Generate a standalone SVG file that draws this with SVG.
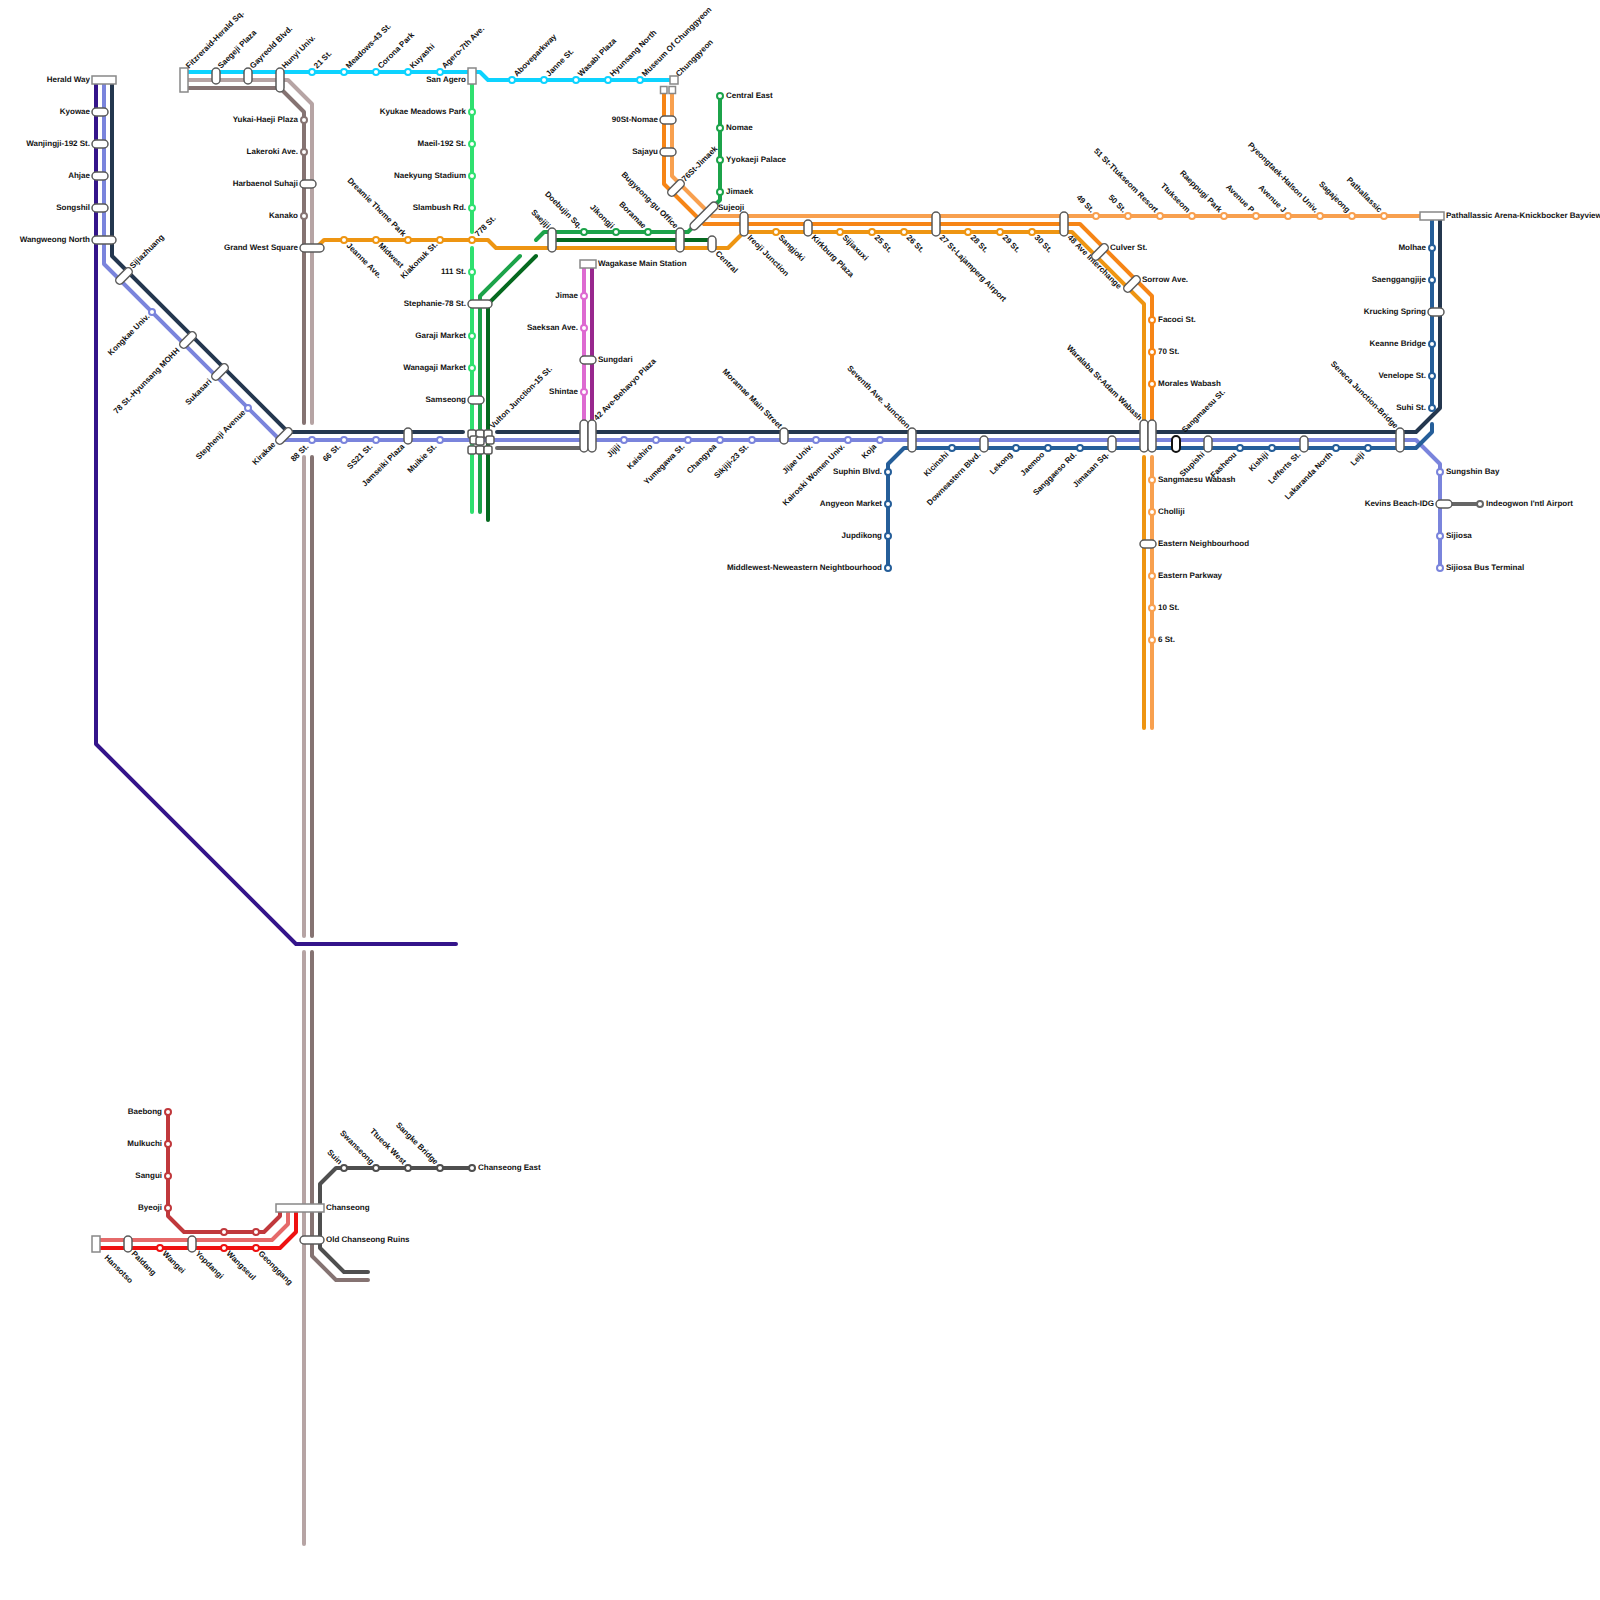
<svg xmlns="http://www.w3.org/2000/svg" width="1600" height="1600" viewBox="0 0 1600 1600">
<style>
text{font:bold 8px "Liberation Sans",Arial,sans-serif;fill:#111;text-rendering:geometricPrecision}
.e{text-anchor:end}
#lines path{fill:none;stroke-width:4;stroke-linecap:round;stroke-linejoin:round}
circle{fill:#fff;stroke-width:2}
.p{fill:#fff;stroke:#5a5a5a;stroke-width:1.5}
.b{fill:#fff;stroke:#888;stroke-width:1.5}
.k{fill:#fff;stroke:#111;stroke-width:2}
.cy{stroke:#0dd3ff}.lg{stroke:#2fe06f}.gr{stroke:#1ca34a}.dg{stroke:#05691f}
.or{stroke:#ee9512}.bo{stroke:#f68516}.lo{stroke:#f8a04f}
.nv{stroke:#24374f}.pw{stroke:#7a84dc}.bl{stroke:#255e99}
.tl{stroke:#b6a4a4}.td{stroke:#857372}.dp{stroke:#34148a}
.pk{stroke:#dd6bd1}.pu{stroke:#98278e}.gy{stroke:#666}.dk{stroke:#4f4f4f}
.r1{stroke:#c0383c}.r2{stroke:#e56a6a}.r3{stroke:#ee1111}
</style>
<g id="lines">
<path class="dp" d="M96 84V744L296 944H456"/>
<path class="pw" d="M104 84V264L280 440H1416L1440 464V568"/>
<path class="nv" d="M112 84V256L288 432H463"/>
<path class="nv" d="M497 432H1416L1440 408V216"/>
<path class="bl" d="M888 568V464L904 448H1416L1432 432V424"/>
<path class="bl" d="M1432 216V408"/>
<path class="gy" d="M497 448H584"/>
<path class="gy" d="M1448 504H1480"/>
<path class="td" d="M188 88H280L304 112V423"/>
<path class="tl" d="M188 80H288L312 104V423"/>
<path class="tl" d="M304 457V936"/>
<path class="td" d="M312 457V936"/>
<path class="tl" d="M304 952V1544"/>
<path class="td" d="M312 952V1256L336 1280H368"/>
<path class="dk" d="M472 1168H336L320 1184V1248L344 1272H368"/>
<path class="cy" d="M188 72H480L488 80H672"/>
<path class="lg" d="M472 84V232"/>
<path class="lg" d="M472 248V512"/>
<path class="gr" d="M480 512V296L520 256"/>
<path class="dg" d="M488 520V304L536 256"/>
<path class="gr" d="M536 240L544 232H688L720 200V96"/>
<path class="dg" d="M556 240H712"/>
<path class="or" d="M316 248L324 240H488L496 248H728L744 232H1072L1144 304V440"/>
<path class="or" d="M1144 457V728"/>
<path class="bo" d="M664 90V184L704 224H1080L1152 296V440"/>
<path class="lo" d="M672 90V176L712 216H1420"/>
<path class="lo" d="M1152 457V728"/>
<path class="pk" d="M584 268V424"/>
<path class="pu" d="M592 268V424"/>
<path class="r1" d="M168 1112V1216L184 1232H264L280 1216V1212"/>
<path class="r2" d="M100 1240H272L288 1224V1212"/>
<path class="r3" d="M100 1248H280L296 1232V1212"/>
</g>
<g id="nodes">
<g id="n1"><rect class="b" x="92" y="76" width="24" height="8"/><text class="e" x="90" y="82">Herald Way</text></g>
<g id="n2"><rect class="p" x="92" y="108" width="16" height="8" rx="4"/><text class="e" x="90" y="114">Kyowae</text></g>
<g id="n3"><rect class="p" x="92" y="140" width="16" height="8" rx="4"/><text class="e" x="90" y="146">Wanjingji-192 St.</text></g>
<g id="n4"><rect class="p" x="92" y="172" width="16" height="8" rx="4"/><text class="e" x="90" y="178">Ahjae</text></g>
<g id="n5"><rect class="p" x="92" y="204" width="16" height="8" rx="4"/><text class="e" x="90" y="210">Songshil</text></g>
<g id="n6"><rect class="p" x="92" y="236" width="24" height="8" rx="4"/><text class="e" x="90" y="242">Wangweong North</text></g>
<g id="n7"><rect class="p" x="114" y="272" width="20" height="8" rx="4" transform="rotate(-45 124 276)"/><text transform="translate(133 269) rotate(-45)">Sijiazhuang</text></g>
<g id="n8"><circle class="pw" cx="152" cy="312" r="3"/><text class="e" transform="translate(150 317) rotate(-45)">Kongkae Univ.</text></g>
<g id="n9"><rect class="p" x="178" y="336" width="20" height="8" rx="4" transform="rotate(-45 188 340)"/><text class="e" transform="translate(180 351) rotate(-45)">78 St.-Hyunsang MOHH</text></g>
<g id="n10"><rect class="p" x="210" y="368" width="20" height="8" rx="4" transform="rotate(-45 220 372)"/><text class="e" transform="translate(212 382) rotate(-45)">Sukasari</text></g>
<g id="n11"><circle class="pw" cx="248" cy="408" r="3"/><text class="e" transform="translate(246 413) rotate(-45)">Stephenji Avenue</text></g>
<g id="n12"><rect class="p" x="274" y="432" width="20" height="8" rx="4" transform="rotate(-45 284 436)"/><text class="e" transform="translate(276 445) rotate(-45)">Kirakae</text></g>
<g id="n13"><rect class="b" x="180" y="68" width="8" height="24"/><text transform="translate(189 69) rotate(-45)">Fitzreraid-Herald Sq.</text></g>
<g id="n14"><rect class="p" x="212" y="68" width="8" height="16" rx="4"/><text transform="translate(221 69) rotate(-45)">Saegeji Plaza</text></g>
<g id="n15"><rect class="p" x="244" y="68" width="8" height="16" rx="4"/><text transform="translate(253 69) rotate(-45)">Gayreold Blvd.</text></g>
<g id="n16"><rect class="p" x="276" y="68" width="8" height="24" rx="4"/><text transform="translate(285 69) rotate(-45)">Hunyi Univ.</text></g>
<g id="n17"><circle class="cy" cx="312" cy="72" r="3"/><text transform="translate(317 69) rotate(-45)">21 St.</text></g>
<g id="n18"><circle class="cy" cx="344" cy="72" r="3"/><text transform="translate(349 69) rotate(-45)">Meadows-43 St.</text></g>
<g id="n19"><circle class="cy" cx="376" cy="72" r="3"/><text transform="translate(381 69) rotate(-45)">Corona Park</text></g>
<g id="n20"><circle class="cy" cx="408" cy="72" r="3"/><text transform="translate(413 69) rotate(-45)">Kuyashi</text></g>
<g id="n21"><circle class="cy" cx="440" cy="72" r="3"/><text transform="translate(445 69) rotate(-45)">Agero-7th Ave.</text></g>
<g id="n22"><rect class="b" x="468" y="68" width="8" height="16"/><text class="e" x="466" y="82">San Agero</text></g>
<g id="n23"><circle class="cy" cx="512" cy="80" r="3"/><text transform="translate(517 77) rotate(-45)">Aboveparkway</text></g>
<g id="n24"><circle class="cy" cx="544" cy="80" r="3"/><text transform="translate(549 77) rotate(-45)">Janne St.</text></g>
<g id="n25"><circle class="cy" cx="576" cy="80" r="3"/><text transform="translate(581 77) rotate(-45)">Wasabi Plaza</text></g>
<g id="n26"><circle class="cy" cx="608" cy="80" r="3"/><text transform="translate(613 77) rotate(-45)">Hyunsang North</text></g>
<g id="n27"><circle class="cy" cx="640" cy="80" r="3"/><text transform="translate(645 77) rotate(-45)">Museum Of Chunggyeon</text></g>
<g id="n28"><rect class="b" x="670" y="76" width="8" height="8"/><text transform="translate(679 77) rotate(-45)">Chunggyeon</text></g>
<g id="n29"><rect class="b" x="660.5" y="86.5" width="6.5" height="7"/></g>
<g id="n30"><rect class="b" x="669" y="86.5" width="6.5" height="7"/></g>
<g id="n31"><rect class="p" x="660" y="116" width="16" height="8" rx="4"/><text class="e" x="658" y="122">90St-Nomae</text></g>
<g id="n32"><rect class="p" x="660" y="148" width="16" height="8" rx="4"/><text class="e" x="658" y="154">Sajayu</text></g>
<g id="n33"><rect class="p" x="666" y="184" width="20" height="8" rx="4" transform="rotate(-45 676 188)"/><text transform="translate(685 182) rotate(-45)">76St-Jimaek</text></g>
<g id="n34"><rect class="p" x="686" y="212" width="36" height="8" rx="4" transform="rotate(-45 704 216)"/><text x="718" y="210">Sujeoji</text></g>
<g id="n35"><circle class="gr" cx="720" cy="96" r="3"/><text x="726" y="98">Central East</text></g>
<g id="n36"><circle class="gr" cx="720" cy="128" r="3"/><text x="726" y="130">Nomae</text></g>
<g id="n37"><circle class="gr" cx="720" cy="160" r="3"/><text x="726" y="162">Yyokaeji Palace</text></g>
<g id="n38"><circle class="gr" cx="720" cy="192" r="3"/><text x="726" y="194">Jimaek</text></g>
<g id="n39"><circle class="td" cx="304" cy="120" r="3"/><text class="e" x="298" y="122">Yukai-Haeji Plaza</text></g>
<g id="n40"><circle class="td" cx="304" cy="152" r="3"/><text class="e" x="298" y="154">Lakeroki Ave.</text></g>
<g id="n41"><rect class="p" x="300" y="180" width="16" height="8" rx="4"/><text class="e" x="298" y="186">Harbaenol Suhaji</text></g>
<g id="n42"><circle class="td" cx="304" cy="216" r="3"/><text class="e" x="298" y="218">Kanako</text></g>
<g id="n43"><rect class="p" x="300" y="244" width="24" height="8" rx="4"/><text class="e" x="298" y="250">Grand West Square</text></g>
<g id="n44"><circle class="or" cx="344" cy="240" r="3"/><text transform="translate(346 246) rotate(45)">Jeanne Ave.</text></g>
<g id="n45"><circle class="or" cx="376" cy="240" r="3"/><text transform="translate(378 246) rotate(45)">Midwest</text></g>
<g id="n46"><circle class="or" cx="408" cy="240" r="3"/><text class="e" transform="translate(403 237) rotate(45)">Dreamie Theme Park</text></g>
<g id="n47"><circle class="or" cx="440" cy="240" r="3"/><text class="e" transform="translate(438 245) rotate(-45)">Kiakonuk St.</text></g>
<g id="n48"><circle class="or" cx="472" cy="240" r="3"/><text transform="translate(478 237) rotate(-45)">778 St.</text></g>
<g id="n49"><circle class="lg" cx="472" cy="112" r="3"/><text class="e" x="466" y="114">Kyukae Meadows Park</text></g>
<g id="n50"><circle class="lg" cx="472" cy="144" r="3"/><text class="e" x="466" y="146">Maeil-192 St.</text></g>
<g id="n51"><circle class="lg" cx="472" cy="176" r="3"/><text class="e" x="466" y="178">Naekyung Stadium</text></g>
<g id="n52"><circle class="lg" cx="472" cy="208" r="3"/><text class="e" x="466" y="210">Slambush Rd.</text></g>
<g id="n53"><circle class="lg" cx="472" cy="272" r="3"/><text class="e" x="466" y="274">111 St.</text></g>
<g id="n54"><rect class="p" x="468" y="300" width="24" height="8" rx="4"/><text class="e" x="466" y="306">Stephanie-78 St.</text></g>
<g id="n55"><circle class="lg" cx="472" cy="336" r="3"/><text class="e" x="466" y="338">Garaji Market</text></g>
<g id="n56"><circle class="lg" cx="472" cy="368" r="3"/><text class="e" x="466" y="370">Wanagaji Market</text></g>
<g id="n57"><rect class="p" x="468" y="396" width="16" height="8" rx="4"/><text class="e" x="466" y="402">Samseong</text></g>
<g id="n58"><rect class="p" x="468" y="430" width="8" height="8" rx="2"/></g>
<g id="n59"><rect class="p" x="476" y="430" width="8" height="8" rx="2"/></g>
<g id="n60"><rect class="p" x="484" y="430" width="8" height="8" rx="2"/><text transform="translate(493 429) rotate(-45)">Vulton Junction-15 St.</text></g>
<g id="n61"><rect class="p" x="470" y="436" width="8" height="8" rx="2"/></g>
<g id="n62"><rect class="p" x="476" y="437" width="8" height="8" rx="2"/></g>
<g id="n63"><rect class="p" x="486" y="436" width="8" height="8" rx="2"/></g>
<g id="n64"><rect class="p" x="468" y="446" width="8" height="8" rx="2"/></g>
<g id="n65"><rect class="p" x="476" y="446" width="8" height="8" rx="2"/></g>
<g id="n66"><rect class="p" x="484" y="446" width="8" height="8" rx="2"/></g>
<g id="n67"><circle class="pw" cx="312" cy="440" r="3"/><text class="e" transform="translate(309 447) rotate(-45)">88 St.</text></g>
<g id="n68"><circle class="pw" cx="344" cy="440" r="3"/><text class="e" transform="translate(341 447) rotate(-45)">66 St.</text></g>
<g id="n69"><circle class="pw" cx="376" cy="440" r="3"/><text class="e" transform="translate(373 447) rotate(-45)">SS21 St.</text></g>
<g id="n70"><rect class="p" x="404" y="428" width="8" height="16" rx="4"/><text class="e" transform="translate(405 447) rotate(-45)">Jamseiki Plaza</text></g>
<g id="n71"><circle class="pw" cx="440" cy="440" r="3"/><text class="e" transform="translate(437 447) rotate(-45)">Muikie St.</text></g>
<g id="n72"><rect class="b" x="580" y="260" width="16" height="8"/><text x="598" y="266">Wagakase Main Station</text></g>
<g id="n73"><circle class="pk" cx="584" cy="296" r="3"/><text class="e" x="578" y="298">Jimae</text></g>
<g id="n74"><circle class="pk" cx="584" cy="328" r="3"/><text class="e" x="578" y="330">Saeksan Ave.</text></g>
<g id="n75"><rect class="p" x="580" y="356" width="16" height="8" rx="4"/><text x="598" y="362">Sungdari</text></g>
<g id="n76"><circle class="pk" cx="584" cy="392" r="3"/><text class="e" x="578" y="394">Shintae</text></g>
<g id="n77"><rect class="p" x="580" y="420" width="8" height="32" rx="4"/></g>
<g id="n78"><rect class="p" x="588" y="420" width="8" height="32" rx="4"/><text transform="translate(597 421) rotate(-45)">42 Ave-Behavyo Plaza</text></g>
<g id="n79"><circle class="pw" cx="624" cy="440" r="3"/><text class="e" transform="translate(621 447) rotate(-45)">Jijiji</text></g>
<g id="n80"><circle class="pw" cx="656" cy="440" r="3"/><text class="e" transform="translate(653 447) rotate(-45)">Kaishiro</text></g>
<g id="n81"><circle class="pw" cx="688" cy="440" r="3"/><text class="e" transform="translate(685 447) rotate(-45)">Yumegawa St.</text></g>
<g id="n82"><circle class="pw" cx="720" cy="440" r="3"/><text class="e" transform="translate(717 447) rotate(-45)">Changyea</text></g>
<g id="n83"><circle class="pw" cx="752" cy="440" r="3"/><text class="e" transform="translate(749 447) rotate(-45)">Sikjiji-23 St.</text></g>
<g id="n84"><rect class="p" x="780" y="428" width="8" height="16" rx="4"/><text class="e" transform="translate(779 429) rotate(45)">Moramae Main Street</text></g>
<g id="n85"><circle class="pw" cx="816" cy="440" r="3"/><text class="e" transform="translate(813 447) rotate(-45)">Jijae Univ.</text></g>
<g id="n86"><circle class="pw" cx="848" cy="440" r="3"/><text class="e" transform="translate(845 447) rotate(-45)">Kairoski Women Univ.</text></g>
<g id="n87"><circle class="pw" cx="880" cy="440" r="3"/><text class="e" transform="translate(877 447) rotate(-45)">Koja</text></g>
<g id="n88"><rect class="p" x="908" y="428" width="8" height="24" rx="4"/><text class="e" transform="translate(907 429) rotate(45)">Seventh Ave. Junction</text></g>
<g id="n89"><circle class="bl" cx="888" cy="472" r="3"/><text class="e" x="882" y="474">Suphin Blvd.</text></g>
<g id="n90"><circle class="bl" cx="888" cy="504" r="3"/><text class="e" x="882" y="506">Angyeon Market</text></g>
<g id="n91"><circle class="bl" cx="888" cy="536" r="3"/><text class="e" x="882" y="538">Jupdikong</text></g>
<g id="n92"><circle class="bl" cx="888" cy="568" r="3"/><text class="e" x="882" y="570">Middlewest-Neweastern Neightbourhood</text></g>
<g id="n93"><circle class="bl" cx="952" cy="448" r="3"/><text class="e" transform="translate(949 455) rotate(-45)">Kicinshi</text></g>
<g id="n94"><rect class="p" x="980" y="436" width="8" height="16" rx="4"/><text class="e" transform="translate(981 455) rotate(-45)">Downeastern Blvd.</text></g>
<g id="n95"><circle class="bl" cx="1016" cy="448" r="3"/><text class="e" transform="translate(1013 455) rotate(-45)">Lekong</text></g>
<g id="n96"><circle class="bl" cx="1048" cy="448" r="3"/><text class="e" transform="translate(1045 455) rotate(-45)">Jaemoo</text></g>
<g id="n97"><circle class="bl" cx="1080" cy="448" r="3"/><text class="e" transform="translate(1077 455) rotate(-45)">Sanggaeso Rd.</text></g>
<g id="n98"><rect class="p" x="1108" y="436" width="8" height="16" rx="4"/><text class="e" transform="translate(1109 455) rotate(-45)">Jimasan Sq.</text></g>
<g id="n99"><rect class="p" x="1140" y="420" width="8" height="32" rx="4"/><text class="e" transform="translate(1139 421) rotate(45)">Waralaba St-Adam Wabash</text></g>
<g id="n100"><rect class="p" x="1148" y="420" width="8" height="32" rx="4"/></g>
<g id="n101"><rect class="k" x="1172" y="436" width="8" height="16" rx="4"/><text transform="translate(1185 433) rotate(-45)">Sangmaesu St.</text></g>
<g id="n102"><rect class="p" x="1204" y="436" width="8" height="16" rx="4"/><text class="e" transform="translate(1205 455) rotate(-45)">Stupishi</text></g>
<g id="n103"><circle class="bl" cx="1240" cy="448" r="3"/><text class="e" transform="translate(1237 455) rotate(-45)">Fasheou</text></g>
<g id="n104"><circle class="bl" cx="1272" cy="448" r="3"/><text class="e" transform="translate(1269 455) rotate(-45)">Kishiji</text></g>
<g id="n105"><rect class="p" x="1300" y="436" width="8" height="16" rx="4"/><text class="e" transform="translate(1301 455) rotate(-45)">Lefferts St.</text></g>
<g id="n106"><circle class="bl" cx="1336" cy="448" r="3"/><text class="e" transform="translate(1333 455) rotate(-45)">Lakaranda North</text></g>
<g id="n107"><circle class="bl" cx="1368" cy="448" r="3"/><text class="e" transform="translate(1365 455) rotate(-45)">Leiji</text></g>
<g id="n108"><rect class="p" x="1396" y="428" width="8" height="24" rx="4"/><text class="e" transform="translate(1395 429) rotate(45)">Seneca Junction-Bridge</text></g>
<g id="n109"><rect class="p" x="548" y="228" width="8" height="24" rx="4"/><text class="e" transform="translate(547 229) rotate(45)">Saejiji</text></g>
<g id="n110"><circle class="gr" cx="584" cy="232" r="3"/><text class="e" transform="translate(579 229) rotate(45)">Doebujin Sq.</text></g>
<g id="n111"><circle class="gr" cx="616" cy="232" r="3"/><text class="e" transform="translate(611 229) rotate(45)">Jikongji</text></g>
<g id="n112"><circle class="gr" cx="648" cy="232" r="3"/><text class="e" transform="translate(643 229) rotate(45)">Boramae</text></g>
<g id="n113"><rect class="p" x="676" y="228" width="8" height="24" rx="4"/><text class="e" transform="translate(675 229) rotate(45)">Bugyeong-gu Office</text></g>
<g id="n114"><rect class="p" x="708" y="236" width="8" height="16" rx="4"/><text transform="translate(715 254) rotate(45)">Central</text></g>
<g id="n115"><rect class="p" x="740" y="212" width="8" height="24" rx="4"/><text transform="translate(747 238) rotate(45)">Ireoji Junction</text></g>
<g id="n116"><circle class="or" cx="776" cy="232" r="3"/><text transform="translate(778 238) rotate(45)">Sangjoki</text></g>
<g id="n117"><rect class="p" x="804" y="220" width="8" height="16" rx="4"/><text transform="translate(811 238) rotate(45)">Kirkburg Plaza</text></g>
<g id="n118"><circle class="or" cx="840" cy="232" r="3"/><text transform="translate(842 238) rotate(45)">Sijiaxuxi</text></g>
<g id="n119"><circle class="or" cx="872" cy="232" r="3"/><text transform="translate(874 238) rotate(45)">25 St.</text></g>
<g id="n120"><circle class="or" cx="904" cy="232" r="3"/><text transform="translate(906 238) rotate(45)">26 St.</text></g>
<g id="n121"><rect class="p" x="932" y="212" width="8" height="24" rx="4"/><text transform="translate(939 238) rotate(45)">27 St-Lajamperg Airport</text></g>
<g id="n122"><circle class="or" cx="968" cy="232" r="3"/><text transform="translate(970 238) rotate(45)">28 St.</text></g>
<g id="n123"><circle class="or" cx="1000" cy="232" r="3"/><text transform="translate(1002 238) rotate(45)">29 St.</text></g>
<g id="n124"><circle class="or" cx="1032" cy="232" r="3"/><text transform="translate(1034 238) rotate(45)">30 St.</text></g>
<g id="n125"><rect class="p" x="1060" y="212" width="8" height="24" rx="4"/><text transform="translate(1067 238) rotate(45)">48 Ave Interchange</text></g>
<g id="n126"><rect class="p" x="1090" y="248" width="20" height="8" rx="4" transform="rotate(-45 1100 252)"/><text x="1110" y="250">Culver St.</text></g>
<g id="n127"><rect class="p" x="1122" y="280" width="20" height="8" rx="4" transform="rotate(-45 1132 284)"/><text x="1142" y="282">Sorrow Ave.</text></g>
<g id="n128"><circle class="lo" cx="1096" cy="216" r="3"/><text class="e" transform="translate(1091 213) rotate(45)">49 St.</text></g>
<g id="n129"><circle class="lo" cx="1128" cy="216" r="3"/><text class="e" transform="translate(1123 213) rotate(45)">50 St.</text></g>
<g id="n130"><circle class="lo" cx="1160" cy="216" r="3"/><text class="e" transform="translate(1155 213) rotate(45)">51 St-Ttukseom Resort</text></g>
<g id="n131"><circle class="lo" cx="1192" cy="216" r="3"/><text class="e" transform="translate(1187 213) rotate(45)">Ttukseom</text></g>
<g id="n132"><circle class="lo" cx="1224" cy="216" r="3"/><text class="e" transform="translate(1219 213) rotate(45)">Raeppugi Park</text></g>
<g id="n133"><circle class="lo" cx="1256" cy="216" r="3"/><text class="e" transform="translate(1251 213) rotate(45)">Avenue P</text></g>
<g id="n134"><circle class="lo" cx="1288" cy="216" r="3"/><text class="e" transform="translate(1283 213) rotate(45)">Avenue J</text></g>
<g id="n135"><circle class="lo" cx="1320" cy="216" r="3"/><text class="e" transform="translate(1315 213) rotate(45)">Pyeongtaek-Halson Univ.</text></g>
<g id="n136"><circle class="lo" cx="1352" cy="216" r="3"/><text class="e" transform="translate(1347 213) rotate(45)">Sagajeong</text></g>
<g id="n137"><circle class="lo" cx="1384" cy="216" r="3"/><text class="e" transform="translate(1379 213) rotate(45)">Pathallassic</text></g>
<g id="n138"><rect class="b" x="1420" y="212" width="24" height="8"/><text x="1446" y="218">Pathallassic Arena-Knickbocker Bayview</text></g>
<g id="n139"><circle class="bl" cx="1432" cy="248" r="3"/><text class="e" x="1426" y="250">Molhae</text></g>
<g id="n140"><circle class="bl" cx="1432" cy="280" r="3"/><text class="e" x="1426" y="282">Saenggangjije</text></g>
<g id="n141"><rect class="p" x="1428" y="308" width="16" height="8" rx="4"/><text class="e" x="1426" y="314">Krucking Spring</text></g>
<g id="n142"><circle class="bl" cx="1432" cy="344" r="3"/><text class="e" x="1426" y="346">Keanne Bridge</text></g>
<g id="n143"><circle class="bl" cx="1432" cy="376" r="3"/><text class="e" x="1426" y="378">Venelope St.</text></g>
<g id="n144"><circle class="bl" cx="1432" cy="408" r="3"/><text class="e" x="1426" y="410">Suhi St.</text></g>
<g id="n145"><circle class="bo" cx="1152" cy="320" r="3"/><text x="1158" y="322">Facoci St.</text></g>
<g id="n146"><circle class="bo" cx="1152" cy="352" r="3"/><text x="1158" y="354">70 St.</text></g>
<g id="n147"><circle class="bo" cx="1152" cy="384" r="3"/><text x="1158" y="386">Morales Wabash</text></g>
<g id="n148"><circle class="lo" cx="1152" cy="480" r="3"/><text x="1158" y="482">Sangmaesu Wabash</text></g>
<g id="n149"><circle class="lo" cx="1152" cy="512" r="3"/><text x="1158" y="514">Cholliji</text></g>
<g id="n150"><rect class="p" x="1140" y="540" width="16" height="8" rx="4"/><text x="1158" y="546">Eastern Neighbourhood</text></g>
<g id="n151"><circle class="lo" cx="1152" cy="576" r="3"/><text x="1158" y="578">Eastern Parkway</text></g>
<g id="n152"><circle class="lo" cx="1152" cy="608" r="3"/><text x="1158" y="610">10 St.</text></g>
<g id="n153"><circle class="lo" cx="1152" cy="640" r="3"/><text x="1158" y="642">6 St.</text></g>
<g id="n154"><circle class="pw" cx="1440" cy="472" r="3"/><text x="1446" y="474">Sungshin Bay</text></g>
<g id="n155"><rect class="p" x="1436" y="500" width="16" height="8" rx="4"/><text class="e" x="1434" y="506">Kevins Beach-IDG</text></g>
<g id="n156"><circle class="gy" cx="1480" cy="504" r="3"/><text x="1486" y="506">Indeogwon I'ntl Airport</text></g>
<g id="n157"><circle class="pw" cx="1440" cy="536" r="3"/><text x="1446" y="538">Sijiosa</text></g>
<g id="n158"><circle class="pw" cx="1440" cy="568" r="3"/><text x="1446" y="570">Sijiosa Bus Terminal</text></g>
<g id="n159"><circle class="r1" cx="168" cy="1112" r="3"/><text class="e" x="162" y="1114">Baebong</text></g>
<g id="n160"><circle class="r1" cx="168" cy="1144" r="3"/><text class="e" x="162" y="1146">Mulkuchi</text></g>
<g id="n161"><circle class="r1" cx="168" cy="1176" r="3"/><text class="e" x="162" y="1178">Sangui</text></g>
<g id="n162"><circle class="r1" cx="168" cy="1208" r="3"/><text class="e" x="162" y="1210">Byeoji</text></g>
<g id="n163"><circle class="r1" cx="224" cy="1232" r="3"/></g>
<g id="n164"><circle class="r1" cx="256" cy="1232" r="3"/></g>
<g id="n165"><rect class="b" x="92" y="1236" width="8" height="16"/><text transform="translate(104 1258) rotate(45)">Hansotso</text></g>
<g id="n166"><rect class="p" x="124" y="1236" width="8" height="16" rx="4"/><text transform="translate(131 1254) rotate(45)">Paldang</text></g>
<g id="n167"><circle class="r3" cx="160" cy="1248" r="3"/><text transform="translate(162 1254) rotate(45)">Wangei</text></g>
<g id="n168"><rect class="p" x="188" y="1236" width="8" height="16" rx="4"/><text transform="translate(195 1254) rotate(45)">Yopdangi</text></g>
<g id="n169"><circle class="r3" cx="224" cy="1248" r="3"/><text transform="translate(226 1254) rotate(45)">Wangseul</text></g>
<g id="n170"><circle class="r3" cx="256" cy="1248" r="3"/><text transform="translate(258 1254) rotate(45)">Geonggang</text></g>
<g id="n171"><rect class="b" x="276" y="1204" width="48" height="8"/><text x="326" y="1210">Chanseong</text></g>
<g id="n172"><rect class="p" x="300" y="1236" width="24" height="8" rx="4"/><text x="326" y="1242">Old Chanseong Ruins</text></g>
<g id="n173"><circle class="dk" cx="344" cy="1168" r="3"/><text class="e" transform="translate(339 1165) rotate(45)">Suin</text></g>
<g id="n174"><circle class="dk" cx="376" cy="1168" r="3"/><text class="e" transform="translate(371 1165) rotate(45)">Swanseong</text></g>
<g id="n175"><circle class="dk" cx="408" cy="1168" r="3"/><text class="e" transform="translate(403 1165) rotate(45)">Ttueok West</text></g>
<g id="n176"><circle class="dk" cx="440" cy="1168" r="3"/><text class="e" transform="translate(435 1165) rotate(45)">Sangke Bridge</text></g>
<g id="n177"><circle class="dk" cx="472" cy="1168" r="3"/><text x="478" y="1170">Chanseong East</text></g>
</g>
</svg>
